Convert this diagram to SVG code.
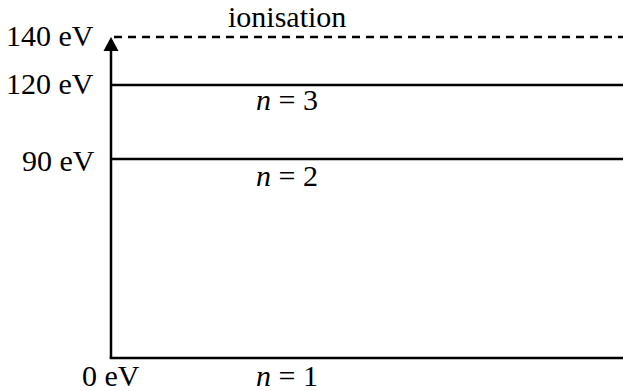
<svg xmlns="http://www.w3.org/2000/svg" width="623" height="391" viewBox="0 0 623 391">
<style>
text{font-family:"Liberation Serif","Times New Roman",serif;font-size:30px;fill:#000}
.i{font-style:italic}
.lvl{stroke:#000;stroke-width:2.5;fill:none}
.dash{stroke:#000;stroke-width:2.5;stroke-dasharray:8 6;fill:none}
</style>
<rect width="623" height="391" fill="#fff"/>
<g id="connectors">
<path class="lvl" d="M111,358 L111,50"/>
<path d="M111,37 L103.5,51 L118.5,51 Z" fill="#000"/>
<path class="lvl" d="M109.7,358 L623,358"/>
<path class="lvl" d="M111,85 L623,85"/>
<path class="lvl" d="M111,159 L623,159"/>
<path class="dash" d="M114,37 L623,37"/>
</g>
<g id="labels">
<text x="6" y="46">140 eV</text>
<text x="6" y="94">120 eV</text>
<text x="22" y="171">90 eV</text>
<text x="82" y="386">0 eV</text>
<text x="228" y="27">ionisation</text>
<text x="256" y="110"><tspan class="i">n</tspan> = 3</text>
<text x="256" y="186"><tspan class="i">n</tspan> = 2</text>
<text x="256" y="386"><tspan class="i">n</tspan> = 1</text>
</g>
</svg>
